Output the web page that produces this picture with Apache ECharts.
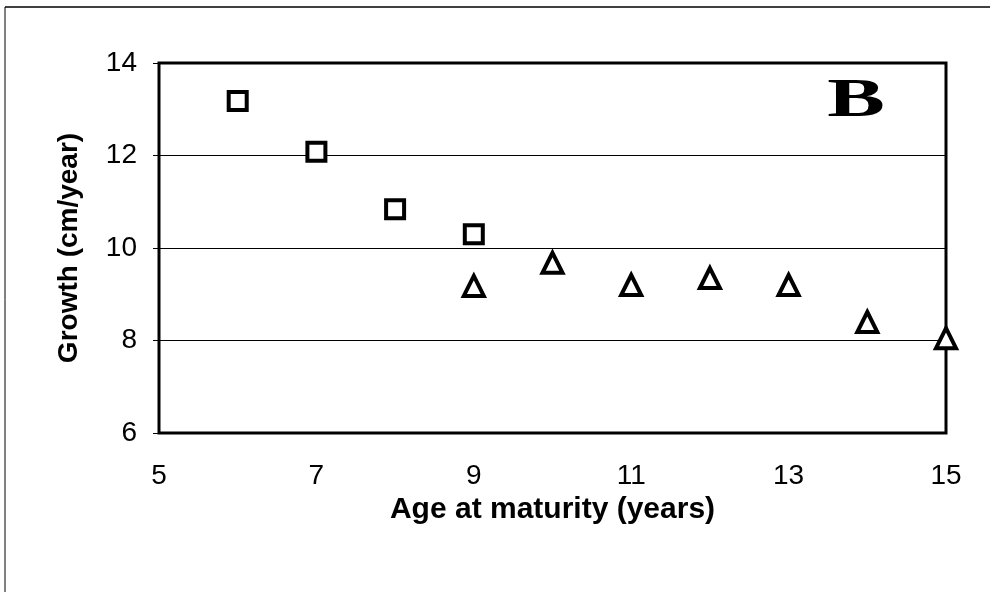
<!DOCTYPE html>
<html><head><meta charset="utf-8">
<script src="https://cdn.jsdelivr.net/npm/echarts@6/dist/echarts.min.js"></script>
<style>html,body{margin:0;padding:0;background:#fff}#c{width:990px;height:592px}</style>
</head><body><div id="c"></div>
<script>
const squareAges = [6, 7, 8, 9];
const squareGrowth = [13.18, 12.08, 10.84, 10.3];
const triangleAges = [9, 10, 11, 12, 13, 14, 15];
const triangleGrowth = [9.18, 9.68, 9.2, 9.35, 9.2, 8.4, 8.05];
const xTicks = [5, 7, 9, 11, 13, 15];
const yTicks = [6, 8, 10, 12, 14];

const chart = echarts.init(document.getElementById('c'));
const font = 'Liberation Sans, Arial, sans-serif';
chart.setOption({
  animation: false,
  grid: {left: 159, right: 44, top: 63, bottom: 159, show: true, borderColor: '#000', borderWidth: 3},
  xAxis: {
    type: 'value', min: xTicks[0], max: xTicks[xTicks.length - 1], interval: 2,
    name: 'Age at maturity (years)', nameLocation: 'middle', nameGap: 60,
    nameTextStyle: {fontFamily: font, fontWeight: 'bold', fontSize: 30, color: '#000'},
    axisLine: {show: false}, axisTick: {show: false},
    splitLine: {show: false},
    axisLabel: {fontFamily: font, fontSize: 28, color: '#000', margin: 29}
  },
  yAxis: {
    type: 'value', min: yTicks[0], max: yTicks[yTicks.length - 1], interval: 2,
    name: 'Growth (cm/year)', nameLocation: 'middle', nameGap: 76, nameRotate: 90,
    nameTextStyle: {fontFamily: font, fontWeight: 'bold', fontSize: 28, color: '#000'},
    axisLine: {show: false},
    axisTick: {show: true, inside: false, length: 6, lineStyle: {color: '#000', width: 1}},
    splitLine: {show: true, lineStyle: {color: '#000', width: 1.2}},
    axisLabel: {fontFamily: font, fontSize: 28, color: '#000', margin: 22}
  },
  series: [
    {type: 'scatter', symbol: 'rect', symbolSize: 18, data: squareAges.map((a, i) => [a, squareGrowth[i]]),
     itemStyle: {color: '#fff', borderColor: '#000', borderWidth: 4, opacity: 1}, z: 5},
    {type: 'scatter', symbol: 'triangle', symbolSize: [20, 20], data: triangleAges.map((a, i) => [a, triangleGrowth[i]]),
     itemStyle: {color: '#fff', borderColor: '#000', borderWidth: 4, opacity: 1}, z: 5}
  ],
  graphic: [
    {type: 'text', x: 856, y: 102, scaleX: 1.6, z: 10,
     style: {text: 'B', x: 0, y: 0, align: 'center', verticalAlign: 'middle',
             font: 'bold 54px "Liberation Serif", "DejaVu Serif", serif', fill: '#000'}},
    {type: 'line', shape: {x1: 5, y1: 7, x2: 990, y2: 7}, style: {stroke: '#000', lineWidth: 1.5}},
    {type: 'line', shape: {x1: 5, y1: 7, x2: 5, y2: 592}, style: {stroke: '#000', lineWidth: 1}}
  ]
});
</script></body></html>
